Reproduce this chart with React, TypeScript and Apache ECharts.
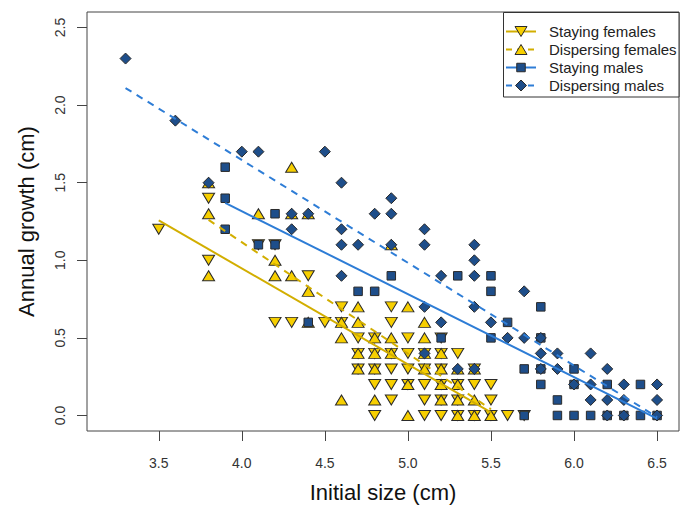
import React, { useEffect, useRef } from "react";
import * as echarts from "echarts";

const xTicks = [3.5, 4.0, 4.5, 5.0, 5.5, 6.0, 6.5];
const yTicks = [0.0, 0.5, 1.0, 1.5, 2.0, 2.5];

const seriesNames = ["Staying females", "Dispersing females", "Staying males", "Dispersing males"];

const stayingFemales: number[][] = [
  [3.5, 1.2], [3.8, 1.4], [3.8, 1.0], [4.1, 1.1], [4.2, 1.1], [4.4, 0.9], [4.6, 0.7], [4.9, 0.7],
  [4.2, 0.6], [4.3, 0.6], [4.5, 0.6], [4.6, 0.6], [4.9, 0.6],
  [4.7, 0.5], [4.8, 0.5], [5.0, 0.5], [5.2, 0.5],
  [4.7, 0.4], [4.8, 0.4], [4.9, 0.4], [5.0, 0.4], [5.1, 0.4], [5.2, 0.4], [5.3, 0.4],
  [4.7, 0.3], [4.8, 0.3], [4.9, 0.3], [5.0, 0.3], [5.1, 0.3], [5.2, 0.3], [5.4, 0.3],
  [4.8, 0.2], [4.9, 0.2], [5.0, 0.2], [5.1, 0.2], [5.2, 0.2], [5.3, 0.2], [5.4, 0.2], [5.5, 0.2],
  [4.9, 0.1], [5.1, 0.1], [5.2, 0.1], [5.3, 0.1], [5.5, 0.1],
  [4.8, 0.0], [5.1, 0.0], [5.2, 0.0], [5.3, 0.0], [5.4, 0.0], [5.5, 0.0], [5.6, 0.0], [5.7, 0.0],
];

const dispersingFemales: number[][] = [
  [3.8, 1.5], [4.3, 1.6], [3.8, 1.3], [4.1, 1.3], [4.3, 1.3], [4.4, 1.3], [4.9, 1.1],
  [4.2, 1.0], [3.8, 0.9], [4.2, 0.9], [4.3, 0.9], [4.4, 0.8],
  [4.7, 0.7], [5.0, 0.7], [4.4, 0.6], [4.6, 0.6], [4.7, 0.6], [5.1, 0.6],
  [4.6, 0.5], [4.8, 0.5], [4.9, 0.5], [5.1, 0.5],
  [4.7, 0.4], [4.8, 0.4], [4.9, 0.4], [5.1, 0.4], [5.2, 0.4],
  [4.7, 0.3], [4.8, 0.3], [5.1, 0.3], [5.2, 0.3], [5.3, 0.3], [5.4, 0.3],
  [5.0, 0.2], [5.2, 0.2], [5.3, 0.2],
  [4.6, 0.1], [4.8, 0.1], [5.2, 0.1], [5.3, 0.1], [5.4, 0.1],
  [5.0, 0.0], [5.3, 0.0], [5.4, 0.0], [5.5, 0.0],
];

const stayingMales: number[][] = [
  [3.9, 1.6], [3.9, 1.4], [3.9, 1.2], [4.2, 1.3], [4.1, 1.1], [4.2, 1.1],
  [4.9, 0.9], [5.3, 0.9], [5.5, 0.9], [4.7, 0.8], [4.8, 0.8], [5.5, 0.8],
  [5.8, 0.7], [4.4, 0.6], [5.6, 0.6], [5.2, 0.5], [5.5, 0.5], [5.8, 0.5],
  [5.7, 0.3], [5.8, 0.3], [6.0, 0.3],
  [5.8, 0.2], [6.0, 0.2], [6.2, 0.2], [6.4, 0.2], [5.9, 0.1],
  [5.7, 0.0], [5.9, 0.0], [6.0, 0.0], [6.1, 0.0], [6.2, 0.0], [6.3, 0.0], [6.4, 0.0], [6.5, 0.0],
];

const dispersingMales: number[][] = [
  [3.3, 2.3], [3.6, 1.9], [3.8, 1.5], [4.0, 1.7], [4.1, 1.7], [4.5, 1.7], [4.6, 1.5], [4.9, 1.4],
  [4.3, 1.3], [4.4, 1.3], [4.8, 1.3], [4.9, 1.3], [4.3, 1.2], [4.6, 1.2], [5.1, 1.2],
  [4.6, 1.1], [4.7, 1.1], [4.9, 1.1], [5.1, 1.1], [5.4, 1.1], [5.4, 1.0],
  [4.6, 0.9], [5.2, 0.9], [5.4, 0.9], [5.7, 0.8], [5.1, 0.7], [5.4, 0.7],
  [5.2, 0.6], [5.5, 0.6], [5.6, 0.5], [5.7, 0.5], [5.8, 0.5],
  [5.1, 0.4], [5.8, 0.4], [5.9, 0.4], [6.1, 0.4],
  [5.3, 0.3], [5.4, 0.3], [5.8, 0.3], [5.9, 0.3], [6.2, 0.3],
  [6.0, 0.2], [6.1, 0.2], [6.3, 0.2], [6.5, 0.2],
  [6.1, 0.1], [6.2, 0.1], [6.3, 0.1], [6.5, 0.1],
  [6.2, 0.0], [6.3, 0.0], [6.5, 0.0],
];

const fitStayingFemales = [[3.5, 1.257], [5.5, 0.02]];
const fitDispersingFemales = [[3.8, 1.26], [5.5, 0.04]];
const fitStayingMales = [[3.9, 1.37], [6.5, -0.02]];
const fitDispersingMales = [[3.3, 2.11], [6.5, -0.01]];

const YELLOW = "#F7CF00";
const GOLD = "#D2AE00";
const NAVY = "#1E4E8A";
const BLUE = "#2E7DD6";
const EDGE = "#2a2a2a";
const FONT = "Liberation Sans, Arial, sans-serif";

const TRI = [12, 10];
const SQ = [8.5, 8.5];
const DIA = [11, 11];

function legendMarker(kind: string, cx: number, cy: number, fill: string) {
  const style = { fill, stroke: EDGE, lineWidth: 1 };
  if (kind === "down") {
    return { type: "polygon", z: 101, shape: { points: [[cx - TRI[0] / 2, cy - TRI[1] / 2], [cx + TRI[0] / 2, cy - TRI[1] / 2], [cx, cy + TRI[1] / 2]] }, style };
  }
  if (kind === "up") {
    return { type: "polygon", z: 101, shape: { points: [[cx, cy - TRI[1] / 2], [cx + TRI[0] / 2, cy + TRI[1] / 2], [cx - TRI[0] / 2, cy + TRI[1] / 2]] }, style };
  }
  if (kind === "square") {
    return { type: "rect", z: 101, shape: { x: cx - SQ[0] / 2, y: cy - SQ[1] / 2, width: SQ[0], height: SQ[1] }, style };
  }
  return { type: "polygon", z: 101, shape: { points: [[cx, cy - DIA[1] / 2], [cx + DIA[0] / 2, cy], [cx, cy + DIA[1] / 2], [cx - DIA[0] / 2, cy]] }, style };
}

export default function App() {
  const ref = useRef<HTMLDivElement>(null);
  useEffect(() => {
    if (!ref.current) return;
    const chart = echarts.init(ref.current, undefined, { renderer: "svg" });

    const legendKinds = ["down", "up", "square", "diamond"];
    const legendFill = [YELLOW, YELLOW, NAVY, NAVY];
    const legendLine = [GOLD, GOLD, BLUE, BLUE];
    const legendDash = [false, true, false, true];
    const graphic: any[] = [
      { type: "rect", z: 100, shape: { x: 503.5, y: 12.5, width: 175.5, height: 84.5 }, style: { fill: "#fff", stroke: "#333", lineWidth: 1 } },
    ];
    seriesNames.forEach((name, i) => {
      const cy = 31.5 + i * 18;
      graphic.push({
        type: "line", z: 101,
        shape: { x1: 506, y1: cy, x2: 536, y2: cy },
        style: { stroke: legendLine[i], lineWidth: 2, lineDash: legendDash[i] ? [6, 5] : null },
      });
      graphic.push(legendMarker(legendKinds[i], 521, cy, legendFill[i]));
      graphic.push({
        type: "text", z: 101, x: 549, y: cy,
        style: { text: name, fill: "#222", font: `15px ${FONT}`, textVerticalAlign: "middle", textAlign: "left" },
      });
    });

    const scatterBase = { type: "scatter", itemStyle: { borderColor: EDGE, borderWidth: 1, opacity: 1 }, silent: true };

    chart.setOption({
      animation: false,
      backgroundColor: "#fff",
      textStyle: { fontFamily: FONT },
      grid: { left: 87, right: 3, top: 12, bottom: 75, show: true, borderColor: "#444", borderWidth: 1, backgroundColor: "transparent" },
      xAxis: {
        type: "value", min: 3.068, max: 6.632,
        name: "Initial size (cm)", nameLocation: "middle", nameGap: 50,
        nameTextStyle: { fontSize: 22, color: "#111", fontFamily: FONT },
        axisLine: { show: false, onZero: false },
        axisTick: { show: true, inside: false, length: 10, customValues: xTicks, lineStyle: { color: "#444" } },
        axisLabel: { show: true, customValues: xTicks, margin: 25, fontSize: 14, color: "#333", fontFamily: FONT, formatter: (v: number) => v.toFixed(1) },
        splitLine: { show: false },
      },
      yAxis: {
        type: "value", min: -0.1, max: 2.6,
        name: "Annual growth (cm)", nameLocation: "middle", nameGap: 50,
        nameTextStyle: { fontSize: 22, color: "#111", fontFamily: FONT },
        axisLine: { show: false, onZero: false },
        axisTick: { show: true, inside: false, length: 10, customValues: yTicks, lineStyle: { color: "#444" } },
        axisLabel: { show: true, customValues: yTicks, margin: 20, rotate: 90, fontSize: 14, color: "#333", fontFamily: FONT, formatter: (v: number) => v.toFixed(1) },
        splitLine: { show: false },
      },
      graphic,
      series: [
        { ...scatterBase, name: seriesNames[0], data: stayingFemales, symbol: "triangle", symbolRotate: 180, symbolSize: TRI, itemStyle: { ...scatterBase.itemStyle, color: YELLOW }, z: 2 },
        { ...scatterBase, name: seriesNames[1], data: dispersingFemales, symbol: "triangle", symbolSize: TRI, itemStyle: { ...scatterBase.itemStyle, color: YELLOW }, z: 3 },
        { ...scatterBase, name: seriesNames[2], data: stayingMales, symbol: "rect", symbolSize: SQ, itemStyle: { ...scatterBase.itemStyle, color: NAVY }, z: 4 },
        { ...scatterBase, name: seriesNames[3], data: dispersingMales, symbol: "diamond", symbolSize: DIA, itemStyle: { ...scatterBase.itemStyle, color: NAVY }, z: 5 },
        { type: "line", name: "fit1", data: fitStayingFemales, symbol: "none", lineStyle: { color: GOLD, width: 2, type: "solid" }, z: 10, silent: true },
        { type: "line", name: "fit2", data: fitDispersingFemales, symbol: "none", lineStyle: { color: GOLD, width: 2, type: [7, 6] }, z: 10, silent: true },
        { type: "line", name: "fit3", data: fitStayingMales, symbol: "none", lineStyle: { color: BLUE, width: 2, type: "solid" }, z: 10, silent: true },
        { type: "line", name: "fit4", data: fitDispersingMales, symbol: "none", lineStyle: { color: BLUE, width: 2, type: [7, 6] }, z: 10, silent: true },
      ],
    });
    return () => chart.dispose();
  }, []);
  return <div ref={ref} style={{ position: "fixed", left: 0, top: 0, width: 682, height: 508, background: "#fff" }} />;
}
